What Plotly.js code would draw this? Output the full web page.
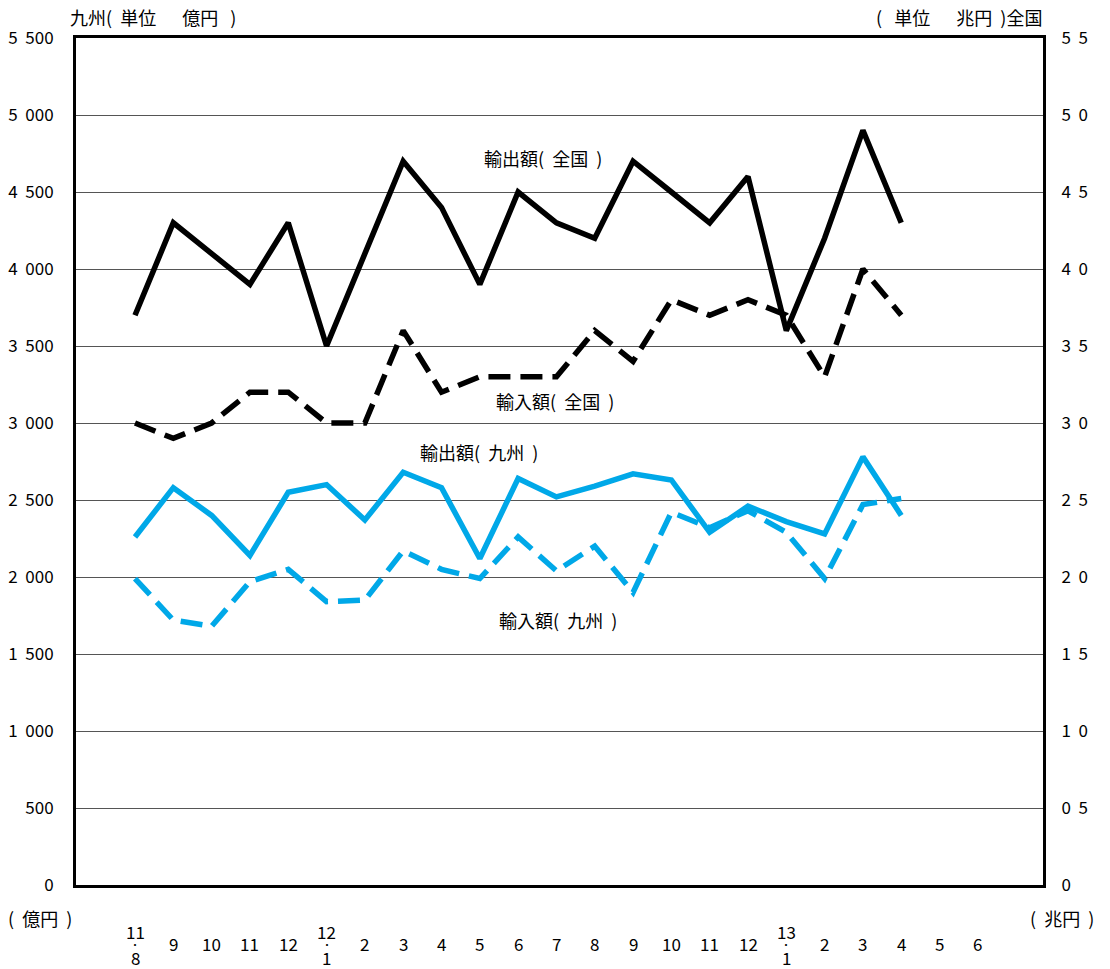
<!DOCTYPE html>
<html><head><meta charset="utf-8">
<script src="https://cdn.plot.ly/plotly-3.0.1.min.js"></script>
<style>body{margin:0;background:#fff}#c{width:1110px;height:969px}</style>
</head><body><div id="c"></div>
<script>
const monthLabels = ["11<br>・<br>8","9","10","11","12","12<br>・<br>1","2","3","4","5","6","7","8","9","10","11","12","13<br>・<br>1","2","3","4","5","6"];
const idx = monthLabels.map((_, i) => i);
// 全国 (兆円)
const exportNational = [3.7,4.3,4.1,3.9,4.3,3.5,4.1,4.7,4.4,3.9,4.5,4.3,4.2,4.7,4.5,4.3,4.6,3.6,4.2,4.9,4.3];
const importNational = [3.0,2.9,3.0,3.2,3.2,3.0,3.0,3.6,3.2,3.3,3.3,3.3,3.6,3.4,3.8,3.7,3.8,3.7,3.3,4.0,3.7];
// 九州 (億円)
const exportKyushu = [2260,2580,2400,2140,2550,2600,2370,2680,2580,2120,2640,2520,2590,2670,2630,2290,2460,2360,2280,2780,2400];
const importKyushu = [1990,1720,1680,1970,2050,1840,1850,2170,2050,1990,2260,2040,2200,1900,2420,2320,2430,2290,1990,2470,2510];
const leftTicks = [0,500,1000,1500,2000,2500,3000,3500,4000,4500,5000,5500];
const leftTickText = ["0","500","1\u00a0\u00a0000","1\u00a0\u00a0500","2\u00a0\u00a0000","2\u00a0\u00a0500","3\u00a0\u00a0000","3\u00a0\u00a0500","4\u00a0\u00a0000","4\u00a0\u00a0500","5\u00a0\u00a0000","5\u00a0\u00a0500"];
const rightTicks = [0,0.5,1,1.5,2,2.5,3,3.5,4,4.5,5,5.5];
const rightTickText = ["0","0\u00a0\u00a05","1\u00a0\u00a00","1\u00a0\u00a05","2\u00a0\u00a00","2\u00a0\u00a05","3\u00a0\u00a00","3\u00a0\u00a05","4\u00a0\u00a00","4\u00a0\u00a05","5\u00a0\u00a00","5\u00a0\u00a05"];

const black = "#000000", blue = "#00a8e8";
const n = exportNational.length;
const xs = idx.slice(0, n);
const traces = [
  {x: xs, y: exportNational, yaxis: "y2", mode: "lines", line: {color: black, width: 5.5}},
  {x: xs, y: importNational, yaxis: "y2", mode: "lines", line: {color: black, width: 5.5, dash: "22px,10px"}},
  {x: xs, y: exportKyushu, mode: "lines", line: {color: blue, width: 5.5}},
  {x: xs, y: importKyushu, mode: "lines", line: {color: blue, width: 5.5, dash: "22px,10px"}}
];
const font = {family: "Noto Sans CJK JP, Noto Sans, sans-serif", size: 17, color: "#000"};
const bigFont = {family: "Noto Sans CJK JP, Noto Sans, sans-serif", size: 18, color: "#000"};
const lbl = (x, y, t, opts) => Object.assign({x, y, text: t, showarrow: false, font: bigFont, borderpad: 0}, opts || {});
const annotations = [
  lbl(0, 1, "九州(\u00a0\u00a0単位\u3000\u00a0\u00a0億円\u00a0\u00a0\u00a0)", {xref: "paper", yref: "paper", xanchor: "left", yanchor: "middle", xshift: -7, yshift: 21}),
  lbl(1, 1, "(\u00a0\u00a0\u00a0単位\u3000\u00a0\u00a0兆円\u00a0\u00a0)全国", {xref: "paper", yref: "paper", xanchor: "right", yanchor: "middle", xshift: 0, yshift: 21}),
  lbl(0, 0, "(\u00a0\u00a0億円\u00a0\u00a0)", {xref: "paper", yref: "paper", xanchor: "left", yanchor: "middle", xshift: -69, yshift: -33}),
  lbl(1, 0, "(\u00a0\u00a0兆円\u00a0\u00a0)", {xref: "paper", yref: "paper", xanchor: "left", yanchor: "middle", xshift: -14, yshift: -33}),
  lbl(10.65, 4.72, "輸出額(\u00a0\u00a0全国\u00a0\u00a0)", {xref: "x", yref: "y2", yanchor: "middle"}),
  lbl(10.97, 3.14, "輸入額(\u00a0\u00a0全国\u00a0\u00a0)", {xref: "x", yref: "y2", yanchor: "middle"}),
  lbl(8.98, 2812, "輸出額(\u00a0\u00a0九州\u00a0\u00a0)", {xref: "x", yref: "y", yanchor: "middle"}),
  lbl(11.04, 1721, "輸入額(\u00a0\u00a0九州\u00a0\u00a0)", {xref: "x", yref: "y", yanchor: "middle"})
];
idx.forEach(i => {
  const parts = monthLabels[i].split("<br>");
  if (parts.length === 1) {
    annotations.push(lbl(i, 0, parts[0], {xref: "x", yref: "paper", yanchor: "middle", yshift: -58, font: font}));
  } else {
    annotations.push(lbl(i, 0, parts[0], {xref: "x", yref: "paper", yanchor: "middle", yshift: -46, font: font}));
    annotations.push(lbl(i, 0, parts[1], {xref: "x", yref: "paper", yanchor: "middle", yshift: -59, font: {family: font.family, size: 10, color: "#000"}}));
    annotations.push(lbl(i, 0, parts[2], {xref: "x", yref: "paper", yanchor: "middle", yshift: -72, font: font}));
  }
});
const layout = {
  width: 1110, height: 969,
  margin: {l: 76, r: 67, t: 38, b: 84},
  paper_bgcolor: "#fff", plot_bgcolor: "#fff",
  showlegend: false,
  font: font,
  xaxis: {range: [-1.54, 23.7], tickvals: idx, ticktext: monthLabels, showgrid: false, zeroline: false,
          showline: true, linecolor: black, linewidth: 3, mirror: true, ticks: "", showticklabels: false},
  yaxis: {range: [0, 5500], tickvals: leftTicks, ticktext: leftTickText, showgrid: true, gridcolor: "#555", gridwidth: 1,
          zeroline: false, showline: true, linecolor: black, linewidth: 3, ticks: "", ticklabelstandoff: 16},
  yaxis2: {range: [0, 5.5], tickvals: rightTicks, ticktext: rightTickText, overlaying: "y", side: "right",
           showgrid: false, zeroline: false, showline: true, linecolor: black, linewidth: 3, ticks: "", ticklabelstandoff: 12},
  annotations: annotations
};
Plotly.newPlot("c", traces, layout, {displayModeBar: false, staticPlot: true});
</script></body></html>
